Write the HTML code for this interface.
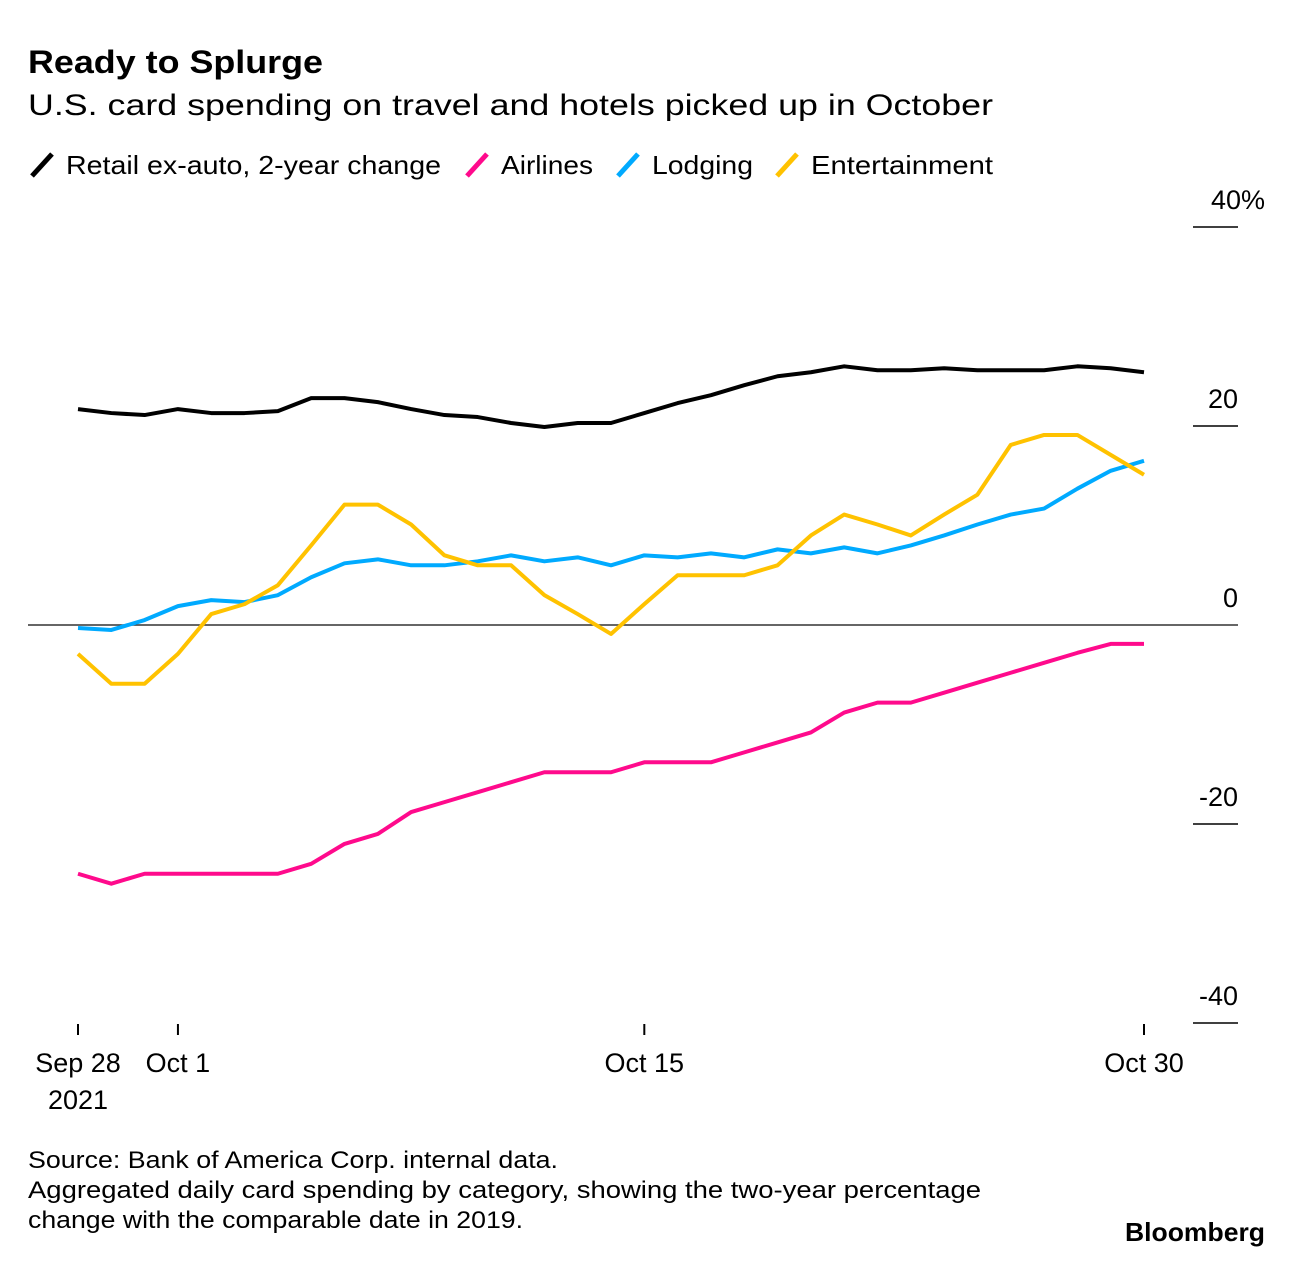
<!DOCTYPE html>
<html><head><meta charset="utf-8"><style>
body{margin:0;background:#fff;font-family:"Liberation Sans",sans-serif;}
svg text{font-family:"Liberation Sans",sans-serif;}
</style></head><body>
<svg width="1293" height="1258">
<text x="28" y="73" font-size="32" font-weight="bold" fill="#000" textLength="295" lengthAdjust="spacingAndGlyphs">Ready to Splurge</text>
<text x="28" y="115" font-size="30" fill="#000" textLength="965" lengthAdjust="spacingAndGlyphs">U.S. card spending on travel and hotels picked up in October</text>
<g font-size="26">
<line x1="32" y1="176" x2="52" y2="154" stroke="#000" stroke-width="5"/><text x="66" y="174" textLength="375" lengthAdjust="spacingAndGlyphs">Retail ex-auto, 2-year change</text>
<line x1="467" y1="176" x2="487" y2="154" stroke="#ff0a8c" stroke-width="5"/><text x="501" y="174" textLength="92" lengthAdjust="spacingAndGlyphs">Airlines</text>
<line x1="618" y1="176" x2="638" y2="154" stroke="#00aaff" stroke-width="5"/><text x="652" y="174" textLength="101" lengthAdjust="spacingAndGlyphs">Lodging</text>
<line x1="777" y1="176" x2="797" y2="154" stroke="#ffc200" stroke-width="5"/><text x="811" y="174" textLength="182" lengthAdjust="spacingAndGlyphs">Entertainment</text>
</g>
<g id="axes"></g>
<g id="plot"></g>
<text x="28" y="1168" font-size="24" textLength="530" lengthAdjust="spacingAndGlyphs">Source: Bank of America Corp. internal data.</text>
<text x="28" y="1198" font-size="24" textLength="953" lengthAdjust="spacingAndGlyphs">Aggregated daily card spending by category, showing the two-year percentage</text>
<text x="28" y="1228" font-size="24" textLength="495" lengthAdjust="spacingAndGlyphs">change with the comparable date in 2019.</text>
<text x="1125" y="1241" font-size="26" font-weight="bold" textLength="140" lengthAdjust="spacingAndGlyphs">Bloomberg</text>
</svg>
<script>
const retail=[21.7,21.3,21.1,21.7,21.3,21.3,21.5,22.8,22.8,22.4,21.7,21.1,20.9,20.3,19.9,20.3,20.3,21.3,22.3,23.1,24.1,25.0,25.4,26.0,25.6,25.6,25.8,25.6,25.6,25.6,26.0,25.8,25.4];
const airlines=[-25,-26,-25,-25,-25,-25,-25,-24,-22,-21,-18.8,-17.8,-16.8,-15.8,-14.8,-14.8,-14.8,-13.8,-13.8,-13.8,-12.8,-11.8,-10.8,-8.8,-7.8,-7.8,-6.8,-5.8,-4.8,-3.8,-2.8,-1.9,-1.9];
const lodging=[-0.3,-0.5,0.5,1.9,2.5,2.3,3.0,4.8,6.2,6.6,6.0,6.0,6.4,7.0,6.4,6.8,6.0,7.0,6.8,7.2,6.8,7.6,7.2,7.8,7.2,8.0,9.0,10.1,11.1,11.7,13.7,15.5,16.5];
const entertainment=[-2.9,-5.9,-5.9,-2.9,1.1,2.1,4.0,8.0,12.1,12.1,10.1,7.0,6.0,6.0,3.0,1.1,-0.9,2.1,5.0,5.0,5.0,6.0,9.0,11.1,10.1,9.0,11.1,13.1,18.1,19.1,19.1,17.1,15.1];
const yTicks=[40,20,0,-20,-40];
const yTickLabels=["40%","20","0","-20","-40"];
const xTickDays=[0,3,17,32];
const xTickLabels=[["Sep 28","2021"],["Oct 1"],["Oct 15"],["Oct 30"]];
const NS="http://www.w3.org/2000/svg";
const x=d=>78+d*(1144-78)/32;
const y=v=>625-v*9.95;
const axes=document.getElementById('axes'),plot=document.getElementById('plot');
function mk(tag,attrs,parent){const e=document.createElementNS(NS,tag);for(const k in attrs)e.setAttribute(k,attrs[k]);parent.appendChild(e);return e;}
yTicks.forEach((t,i)=>{
  if(t!==0){const l=mk('line',{x1:1193,x2:1238,y1:y(t),y2:y(t),stroke:'#000','stroke-width':1.5},axes);
  
  }
  const tx=mk('text',{x:t===40?1265:1238,y:y(t)-18,'font-size':27,'text-anchor':'end'},axes);
  tx.textContent=yTickLabels[i];
  
  
});
const z=mk('line',{x1:28,x2:1238,y1:y(0),y2:y(0),stroke:'#333','stroke-width':1.5},axes);


xTickDays.forEach((d,i)=>{
  const l=mk('line',{x1:x(d),x2:x(d),y1:1024,y2:1035,stroke:'#000','stroke-width':2},axes);
  
  
  xTickLabels[i].forEach((s,j)=>{
    const t=mk('text',{x:x(d),y:1072+j*37,'font-size':27,'text-anchor':'middle'},axes);
    t.textContent=s;
    
    
  });
});
[[retail,'#000','retail-line'],[lodging,'#00aaff','lodging-line'],[entertainment,'#ffc200','entertainment-line'],[airlines,'#ff0a8c','airlines-line']].forEach(([s,c,n])=>{
  const p=mk('polyline',{points:s.map((v,i)=>x(i)+','+y(v)).join(' '),fill:'none',stroke:c,'stroke-width':4,'stroke-linejoin':'round'},plot);
  
  
});
</script>
</body></html>
